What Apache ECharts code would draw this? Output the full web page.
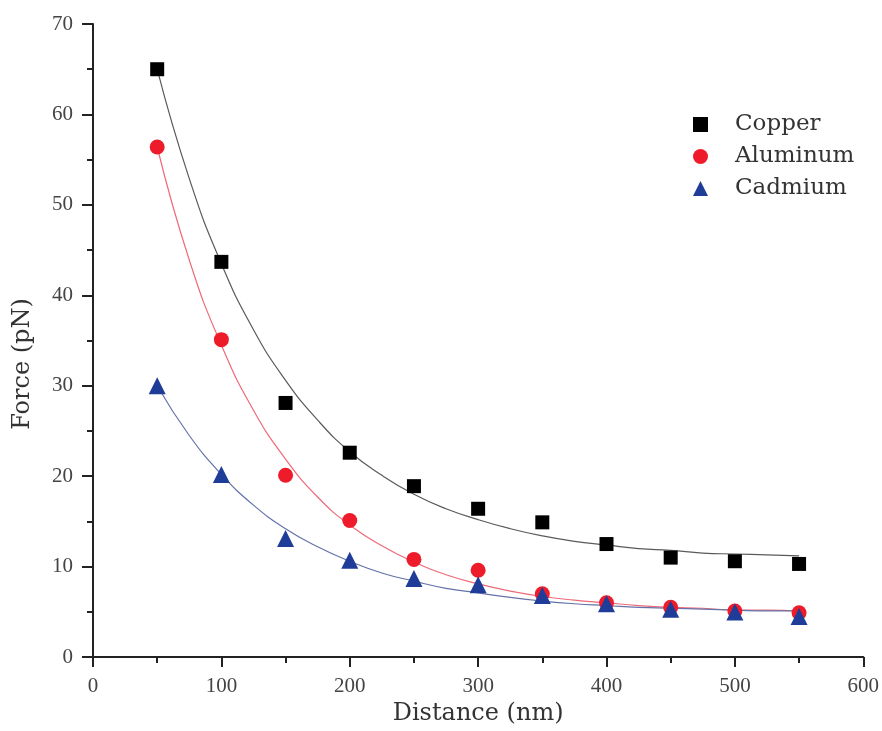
<!DOCTYPE html>
<html>
<head>
<meta charset="utf-8">
<script src="https://cdn.jsdelivr.net/npm/echarts@6/dist/echarts.min.js"></script>
<style>
  html, body { margin: 0; padding: 0; background: #ffffff; }
  #chart { width: 882px; height: 731px; }
</style>
</head>
<body>
<div id="chart"></div>
<script>
// Measured force vs. distance for three metals
const distance = [50, 100, 150, 200, 250, 300, 350, 400, 450, 500, 550];
const copper   = [65.0, 43.7, 28.1, 22.6, 18.9, 16.4, 14.9, 12.5, 11.0, 10.6, 10.3];
const aluminum = [56.4, 35.1, 20.1, 15.1, 10.8, 9.6, 7.0, 6.0, 5.5, 5.1, 4.9];
const cadmium  = [30.0, 20.2, 13.1, 10.7, 8.7, 8.0, 6.8, 5.9, 5.3, 5.0, 4.5];

// Fitted decay curves, sampled every 25 nm
const fitDistance = [50, 75, 100, 125, 150, 175, 200, 225, 250, 275, 300,
                     325, 350, 375, 400, 425, 450, 475, 500, 525, 550];
const copperFit   = [65.0, 52.9, 43.5, 36.2, 30.6, 26.2, 22.7, 20.1, 18.0, 16.4, 15.2,
                     14.2, 13.4, 12.8, 12.4, 12.0, 11.8, 11.5, 11.4, 11.3, 11.2];
const aluminumFit = [56.4, 43.9, 34.5, 27.3, 21.9, 17.7, 14.6, 12.3, 10.5, 9.1, 8.1,
                     7.3, 6.7, 6.3, 6.0, 5.7, 5.5, 5.4, 5.2, 5.2, 5.1];
const cadmiumFit  = [30.0, 24.5, 20.2, 16.8, 14.2, 12.2, 10.6, 9.3, 8.4, 7.6, 7.1,
                     6.6, 6.2, 5.9, 5.7, 5.5, 5.4, 5.3, 5.2, 5.1, 5.1];

const seriesNames = ['Copper', 'Aluminum', 'Cadmium'];

const pairs = (xs, ys) => xs.map((x, i) => [x, ys[i]]);

const tickFont = '"Liberation Serif", serif';
const textFont = '"DejaVu Serif", serif';
const axisColor = '#222';

const chart = echarts.init(document.getElementById('chart'), null, { renderer: 'canvas' });

function fitLine(name, ys, color) {
  return {
    name: name,
    type: 'line',
    data: pairs(fitDistance, ys),
    smooth: true,
    showSymbol: false,
    silent: true,
    lineStyle: { color: color, width: 1.2 },
    z: 1
  };
}

function points(name, ys, symbol, size, color) {
  return {
    name: name,
    type: 'scatter',
    data: pairs(distance, ys),
    symbol: symbol,
    symbolSize: size,
    itemStyle: { color: color, opacity: 1 },
    z: 3
  };
}

chart.setOption({
  animation: false,
  backgroundColor: '#ffffff',
  grid: { left: 93, right: 17, top: 24, bottom: 66, containLabel: false },
  legend: {
    data: seriesNames,
    orient: 'vertical',
    left: 688,
    top: 108,
    itemWidth: 15,
    itemHeight: 15,
    itemGap: 9,
    textStyle: {
      fontFamily: textFont,
      fontSize: 23,
      color: '#333',
      padding: [0, 0, 0, 22]
    }
  },
  xAxis: {
    type: 'value',
    min: 0,
    max: 600,
    interval: 100,
    name: 'Distance (nm)',
    nameLocation: 'middle',
    nameGap: 42,
    nameTextStyle: { fontFamily: textFont, fontSize: 24, color: '#333' },
    axisLine: { onZero: false, lineStyle: { color: axisColor, width: 2 } },
    axisTick: { length: 10, lineStyle: { color: axisColor, width: 2 } },
    minorTick: { show: true, splitNumber: 2, length: 6, lineStyle: { color: axisColor, width: 2 } },
    axisLabel: { fontFamily: tickFont, fontSize: 21, color: '#444', margin: 19 },
    splitLine: { show: false }
  },
  yAxis: {
    type: 'value',
    min: 0,
    max: 70,
    interval: 10,
    axisLine: { show: true, onZero: false, lineStyle: { color: axisColor, width: 2 } },
    axisTick: { show: true, length: 11, lineStyle: { color: axisColor, width: 2 } },
    minorTick: { show: true, splitNumber: 2, length: 6, lineStyle: { color: axisColor, width: 2 } },
    axisLabel: { fontFamily: tickFont, fontSize: 21, color: '#444', margin: 20 },
    splitLine: { show: false }
  },
  graphic: [{
    type: 'text',
    x: 23,
    y: 364,
    rotation: Math.PI / 2,
    style: {
      text: 'Force (pN)',
      fontFamily: textFont,
      fontSize: 24,
      fill: '#333',
      align: 'center',
      verticalAlign: 'middle'
    }
  }],
  series: [
    fitLine('Copper fit', copperFit, '#5a5a5a'),
    fitLine('Aluminum fit', aluminumFit, '#ee6a78'),
    fitLine('Cadmium fit', cadmiumFit, '#6672aa'),
    points('Copper', copper, 'rect', 14, '#000000'),
    points('Aluminum', aluminum, 'circle', 15, '#ee1c2a'),
    points('Cadmium', cadmium, 'triangle', 17, '#1f3d98')
  ]
});
</script>
</body>
</html>
